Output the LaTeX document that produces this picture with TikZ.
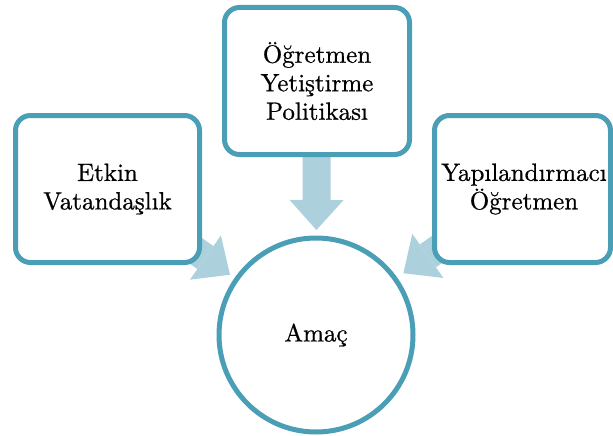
\documentclass[tikz,border=0pt]{standalone}
\usepackage{fontspec}
\newfontfamily\boxfont[FakeBold=0.7]{lmroman10-regular.otf}
\usetikzlibrary{arrows.meta,calc}
\pgfdeclarelayer{background}
\pgfsetlayers{background,main}
\definecolor{edgeblue}{RGB}{74,158,181}
\definecolor{arrowblue}{RGB}{173,208,221}
\begin{document}
\begin{tikzpicture}[x=1pt,y=-1pt,
  box/.style={draw=edgeblue,line width=5pt,rounded corners=15pt,fill=white,
    minimum height=147pt,inner sep=0pt,align=center,
    font=\boxfont\fontsize{25}{28.5}\selectfont},
  goal/.style={circle,draw=edgeblue,line width=5pt,fill=white,minimum size=194pt,
    inner sep=0pt,font=\boxfont\fontsize{25}{28.5}\selectfont},
  bigarrow/.style={draw=arrowblue,line width=28pt,
    -{Triangle[width=54pt,length=30pt,line width=0pt,fill=arrowblue]}}]
\useasboundingbox (0,0) rectangle (613,436);
\node[box,minimum width=184pt] (L) at (107.5,189) {Etkin\\Vatandaşlık};
\node[box,minimum width=185pt] (T) at (317,81) {Öğretmen\\Yetiştirme\\Politikası};
\node[box,minimum width=176pt] (R) at (522.5,189) {\hspace*{3pt}Yapılandırmacı\\\hspace*{3pt}Öğretmen};
\node[goal] (C) at (316,335) {Amaç};
\begin{pgfonlayer}{background}
\draw[bigarrow] (L.center) -- ($(C.center)!105pt!(L.center)$);
\draw[bigarrow] (T.center) -- ($(C.center)!105pt!(T.center)$);
\draw[bigarrow] (R.center) -- ($(C.center)!107pt!(R.center)$);
\end{pgfonlayer}
\end{tikzpicture}
\end{document}
